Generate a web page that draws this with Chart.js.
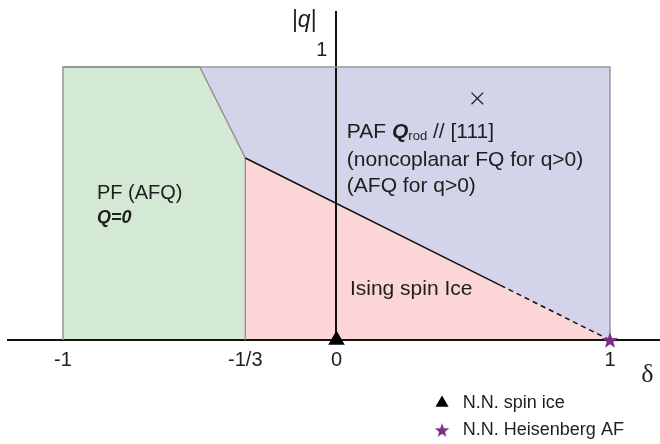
<!DOCTYPE html>
<html>
<head>
<meta charset="utf-8">
<title>Phase diagram in the (δ, |q|) plane</title>
<style>
  html, body { margin: 0; padding: 0; background: #ffffff; }
  #wrap { width: 660px; height: 444px; }
</style>
<script src="https://cdn.jsdelivr.net/npm/chart.js@4.4.1/dist/chart.umd.min.js"></script>
</head>
<body>
<div id="wrap"><canvas id="phase" width="660" height="444"></canvas></div>
<script>
// ---- axis ticks ----
const deltaTicks = [-1, -1 / 3, 0, 1];
const deltaTickLabels = ['-1', '-1/3', '0', '1'];
const qTicks = [1];
const qTickLabels = ['1'];

// ---- phase regions, as (δ, |q|) vertices ----
const pafRegion = [[-1, 0], [-1, 1], [1, 1], [1, 0]];
const pfBoundary = [[-1, 1], [-0.5, 1], [-1 / 3, 2 / 3], [-1 / 3, 0]];
const iceBoundary = [[-1 / 3, 2 / 3], [0.6, 0.2], [1, 0]];

// ---- special points ----
const spinIcePoint = [[0, 0]];
const heisenbergPoint = [[1, 0]];
const crossPoint = [[0.515, 0.885]];

const toXY = pts => pts.map(([x, y]) => ({ x, y }));

const SANS = "'Liberation Sans', Arial, Helvetica, sans-serif";
const SERIF = "'Liberation Serif', 'Times New Roman', 'DejaVu Serif', serif";
const INK = '#1e1e1e';
const STAR_COLOR = '#7a2d86';

// Five-pointed star sprite used as a point style
function starSprite(R, color) {
  const size = Math.ceil(R * 2 + 4);
  const c = document.createElement('canvas');
  c.width = size; c.height = size;
  const g = c.getContext('2d');
  g.translate(size / 2, size / 2 + R * 0.095);
  g.beginPath();
  for (let i = 0; i < 10; i++) {
    const a = -Math.PI / 2 + i * Math.PI / 5;
    const r = i % 2 ? R * 0.4 : R;
    g.lineTo(r * Math.cos(a), r * Math.sin(a));
  }
  g.closePath();
  g.fillStyle = color;
  g.fill();
  return c;
}
const bigStar = starSprite(8.6, STAR_COLOR);
const smallStar = starSprite(7.6, STAR_COLOR);

// Text placed in data coordinates
const phaseLabels = {
  id: 'phaseLabels',
  afterDraw(chart) {
    const { ctx } = chart;
    const xs = chart.scales.x, ys = chart.scales.y;
    const px = v => xs.getPixelForValue(v);
    const py = v => ys.getPixelForValue(v);

    ctx.save();
    ctx.fillStyle = INK;
    ctx.textBaseline = 'middle';
    ctx.textAlign = 'left';

    const runs = (x, y, parts) => {
      let cx = x;
      for (const p of parts) {
        ctx.font = p.font;
        ctx.fillText(p.text, cx, y + (p.dy || 0));
        cx += ctx.measureText(p.text).width;
      }
    };

    // PAF region
    const lx = px(0.038);
    runs(lx, py(0.763), [
      { text: 'PAF ', font: `21px ${SANS}` },
      { text: 'Q', font: `italic bold 21px ${SANS}` },
      { text: 'rod', font: `13px ${SANS}`, dy: 5 },
      { text: ' // [111]', font: `21px ${SANS}` }
    ]);
    ctx.font = `21px ${SANS}`;
    ctx.fillText('(noncoplanar FQ for q>0)', lx, py(0.659));
    ctx.fillText('(AFQ for q>0)', lx, py(0.562));

    // PF region
    ctx.font = `20px ${SANS}`;
    ctx.fillText('PF (AFQ)', px(-0.876), py(0.538));
    ctx.font = `italic bold 18px ${SANS}`;
    ctx.fillText('Q=0', px(-0.876), py(0.447));

    // spin ice region
    ctx.font = `21px ${SANS}`;
    ctx.fillText('Ising spin Ice', px(0.049), py(0.187));

    // axis names
    runs(px(-0.163), py(1.17), [
      { text: '|', font: `23px ${SANS}` },
      { text: 'q', font: `italic 23px ${SANS}` },
      { text: '|', font: `23px ${SANS}` }
    ]);
    ctx.font = `26px ${SERIF}`;
    ctx.textAlign = 'center';
    ctx.fillText('δ', px(1.137), py(-0.128));

    // key for the two marked points
    const kx = px(0.386), tx = px(0.462);
    const k1 = py(-0.231), k2 = py(-0.330);
    ctx.fillStyle = '#000';
    Chart.helpers.drawPoint(ctx, { pointStyle: 'triangle', radius: 7.6, rotation: 0, borderWidth: 0 }, kx, k1);
    ctx.drawImage(smallStar, kx - smallStar.width / 2, k2 - smallStar.height / 2);
    ctx.fillStyle = INK;
    ctx.textAlign = 'left';
    ctx.font = `18px ${SANS}`;
    ctx.fillText('N.N. spin ice', tx, k1);
    ctx.fillText('N.N. Heisenberg AF', tx, k2);
    ctx.restore();
  }
};

const noPoints = { pointRadius: 0, pointHoverRadius: 0 };
// axes sit inside the plot, so they must not reserve any room in the layout
const inPlotAxis = s => {
  s.paddingLeft = 0; s.paddingRight = 0; s.paddingTop = 0; s.paddingBottom = 0;
  if (s.isHorizontal()) { s.height = 0; } else { s.width = 0; }
};

new Chart(document.getElementById('phase'), {
  type: 'line',
  data: {
    datasets: [
      { // N.N. Heisenberg AF
        data: toXY(heisenbergPoint), showLine: false, order: 0, clip: false,
        pointStyle: bigStar, pointRadius: 9
      },
      { // N.N. spin ice
        data: toXY(spinIcePoint), showLine: false, order: 0, clip: false,
        pointStyle: 'triangle', pointRadius: 9.6, pointBackgroundColor: '#000', pointBorderWidth: 0
      },
      { // marker inside the PAF region
        data: toXY(crossPoint), showLine: false, order: 0, clip: false,
        pointStyle: 'crossRot', pointRadius: 8.2, pointBorderColor: '#222', pointBorderWidth: 1.3
      },
      { // spin ice / PAF boundary: solid, then dashed towards δ = 1
        data: toXY(iceBoundary), order: 1, ...noPoints,
        fill: false, borderColor: '#111', borderWidth: 1.5,
        segment: { borderDash: c => (c.p0DataIndex >= 1 ? [5, 4] : undefined) }
      },
      { // Ising spin ice region
        data: toXY(iceBoundary), order: 2, ...noPoints,
        fill: 'origin', backgroundColor: '#fcd6d7', borderWidth: 0
      },
      { // PF region
        data: toXY(pfBoundary), order: 3, ...noPoints,
        fill: 'origin', backgroundColor: '#d4e9d4',
        borderColor: '#8e8e8e', borderWidth: 1.3
      },
      { // PAF region
        data: toXY(pafRegion), order: 4, ...noPoints,
        fill: 'origin', backgroundColor: '#d3d3e9',
        borderColor: '#9a9a9a', borderWidth: 1.6
      }
    ]
  },
  options: {
    responsive: false,
    animation: false,
    events: [],
    devicePixelRatio: 1,
    layout: { autoPadding: false, padding: { left: 8, right: 0, top: 12, bottom: 104 } },
    plugins: {
      legend: { display: false },
      tooltip: { enabled: false },
      filler: { drawTime: 'beforeDraw' }
    },
    scales: {
      x: {
        type: 'linear',
        min: -1.2011, max: 1.1830,
        position: { y: 0 },
        grid: { display: false, drawTicks: false },
        border: { display: true, color: '#111', width: 2 },
        afterBuildTicks: s => { s.ticks = deltaTicks.map(v => ({ value: v })); },
        afterFit: inPlotAxis,
        ticks: {
          autoSkip: false, maxRotation: 0, padding: 8,
          color: INK, font: { family: SANS, size: 20 },
          callback: (v, i) => deltaTickLabels[i]
        }
      },
      y: {
        type: 'linear',
        min: 0, max: 1.2015,
        position: { x: 0 },
        grid: { display: false, drawTicks: false },
        border: { display: true, color: '#111', width: 2 },
        afterFit: inPlotAxis,
        ticks: { display: false }
      },
      yLabels: {
        type: 'linear', axis: 'y',
        min: 0, max: 1.2015,
        position: { x: -0.033 },
        grid: { display: false, drawTicks: false },
        border: { display: false },
        afterBuildTicks: s => { s.ticks = qTicks.map(v => ({ value: v })); },
        afterFit: inPlotAxis,
        ticks: {
          labelOffset: -17, padding: 0,
          color: INK, font: { family: SANS, size: 20 },
          callback: (v, i) => qTickLabels[i]
        }
      }
    }
  },
  plugins: [phaseLabels]
});
</script>
</body>
</html>
